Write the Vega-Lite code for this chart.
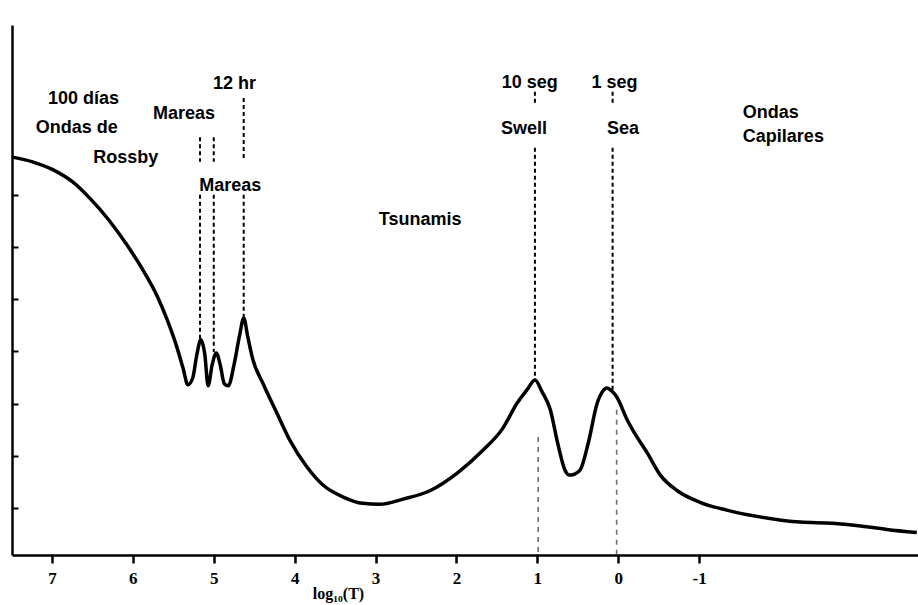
{
  "$schema": "https://vega.github.io/schema/vega-lite/v6.json",
  "width": 906,
  "height": 530,
  "padding": {"left": 12, "top": 25, "right": 0, "bottom": 50},
  "autosize": {"type": "none"},
  "background": "white",
  "config": {
    "view": {"stroke": null},
    "axis": {"grid": false, "domainColor": "black", "domainWidth": 2.5, "tickColor": "black", "ticks": true},
    "axisX": {"tickSize": 8, "tickWidth": 2.5},
    "axisY": {"tickSize": -6, "tickWidth": 2}
  },
  "datasets": {
    "spectrum": [
      {"logT": 7.49, "energy": 7.72}, {"logT": 7.24, "energy": 7.63}, {"logT": 6.99, "energy": 7.48},
      {"logT": 6.74, "energy": 7.24}, {"logT": 6.53, "energy": 6.93}, {"logT": 6.30, "energy": 6.52},
      {"logT": 6.07, "energy": 6.03}, {"logT": 5.88, "energy": 5.57}, {"logT": 5.70, "energy": 5.06},
      {"logT": 5.58, "energy": 4.62}, {"logT": 5.46, "energy": 4.10}, {"logT": 5.38, "energy": 3.68},
      {"logT": 5.32, "energy": 3.36}, {"logT": 5.26, "energy": 3.49}, {"logT": 5.21, "energy": 3.93},
      {"logT": 5.16, "energy": 4.22}, {"logT": 5.11, "energy": 3.93}, {"logT": 5.07, "energy": 3.34},
      {"logT": 5.02, "energy": 3.74}, {"logT": 4.97, "energy": 3.97}, {"logT": 4.92, "energy": 3.74},
      {"logT": 4.87, "energy": 3.38}, {"logT": 4.82, "energy": 3.34}, {"logT": 4.75, "energy": 3.74},
      {"logT": 4.68, "energy": 4.31}, {"logT": 4.63, "energy": 4.64}, {"logT": 4.58, "energy": 4.28},
      {"logT": 4.52, "energy": 3.86}, {"logT": 4.39, "energy": 3.38}, {"logT": 4.22, "energy": 2.82},
      {"logT": 4.06, "energy": 2.30}, {"logT": 3.85, "energy": 1.79}, {"logT": 3.65, "energy": 1.44},
      {"logT": 3.40, "energy": 1.21}, {"logT": 3.16, "energy": 1.09}, {"logT": 2.95, "energy": 1.07},
      {"logT": 2.66, "energy": 1.17}, {"logT": 2.33, "energy": 1.33}, {"logT": 1.99, "energy": 1.67},
      {"logT": 1.67, "energy": 2.11}, {"logT": 1.43, "energy": 2.52}, {"logT": 1.25, "energy": 3.01},
      {"logT": 1.12, "energy": 3.28}, {"logT": 1.03, "energy": 3.45}, {"logT": 0.94, "energy": 3.22},
      {"logT": 0.84, "energy": 2.88}, {"logT": 0.75, "energy": 2.25}, {"logT": 0.66, "energy": 1.73},
      {"logT": 0.60, "energy": 1.63}, {"logT": 0.54, "energy": 1.65}, {"logT": 0.47, "energy": 1.73},
      {"logT": 0.37, "energy": 2.25}, {"logT": 0.26, "energy": 3.01}, {"logT": 0.20, "energy": 3.22},
      {"logT": 0.14, "energy": 3.30}, {"logT": 0.08, "energy": 3.24}, {"logT": 0.02, "energy": 3.13},
      {"logT": -0.11, "energy": 2.69}, {"logT": -0.18, "energy": 2.49}, {"logT": -0.36, "energy": 2.05},
      {"logT": -0.52, "energy": 1.63}, {"logT": -0.73, "energy": 1.33}, {"logT": -1.01, "energy": 1.11},
      {"logT": -1.34, "energy": 0.96}, {"logT": -1.75, "energy": 0.83}, {"logT": -2.25, "energy": 0.73},
      {"logT": -2.65, "energy": 0.71}, {"logT": -3.07, "energy": 0.64}, {"logT": -3.32, "energy": 0.59},
      {"logT": -3.69, "energy": 0.53}
    ],
    "markers": [
      {"logT": 5.17, "y": 8.10, "y2": 7.63},
      {"logT": 5.17, "y": 7.00, "y2": 4.22},
      {"logT": 5.00, "y": 8.10, "y2": 7.63},
      {"logT": 5.00, "y": 7.00, "y2": 3.99},
      {"logT": 4.63, "y": 8.85, "y2": 7.67},
      {"logT": 4.63, "y": 7.00, "y2": 4.64},
      {"logT": 1.03, "y": 8.97, "y2": 8.72},
      {"logT": 1.03, "y": 7.90, "y2": 3.45},
      {"logT": 0.07, "y": 8.97, "y2": 8.72},
      {"logT": 0.07, "y": 7.90, "y2": 3.26}
    ],
    "lowerMarkers": [
      {"logT": 0.99, "y": 2.36, "y2": 0.1},
      {"logT": 0.02, "y": 2.88, "y2": 0.1}
    ],
    "labels": [
      {"logT": 7.05, "y": 8.74, "text": "100 días"},
      {"logT": 7.20, "y": 8.18, "text": "Ondas de"},
      {"logT": 6.49, "y": 7.61, "text": "Rossby"},
      {"logT": 5.75, "y": 8.45, "text": "Mareas"},
      {"logT": 5.01, "y": 9.03, "text": "12 hr"},
      {"logT": 5.18, "y": 7.07, "text": "Mareas"},
      {"logT": 2.96, "y": 6.42, "text": "Tsunamis"},
      {"logT": 1.44, "y": 9.05, "text": "10 seg"},
      {"logT": 1.45, "y": 8.16, "text": "Swell"},
      {"logT": 0.33, "y": 9.05, "text": "1 seg"},
      {"logT": 0.14, "y": 8.16, "text": "Sea"},
      {"logT": -1.54, "y": 8.47, "text": "Ondas"},
      {"logT": -1.54, "y": 8.01, "text": "Capilares"}
    ]
  },
  "layer": [
    {
      "data": {"name": "spectrum"},
      "mark": {"type": "line", "color": "black", "strokeWidth": 3.5, "interpolate": "monotone"},
      "encoding": {
        "x": {
          "field": "logT",
          "type": "quantitative",
          "scale": {"domain": [7.494, -3.705], "nice": false, "zero": false},
          "axis": {
            "values": [7, 6, 5, 4, 3, 2, 1, 0, -1],
            "labelExpr": "datum.value < 0 ? '-' + abs(datum.value) : '' + datum.value",
            "labelFont": "Liberation Serif",
            "labelFontWeight": "bold",
            "labelFontSize": 17,
            "labelColor": "black",
            "labelPadding": 7,
            "title": "log₁₀(T)",
            "titleFont": "Liberation Serif",
            "titleFontWeight": "bold",
            "titleFontSize": 16,
            "titleColor": "black",
            "titleX": 326,
            "titleY": 43,
            "titleBaseline": "alphabetic",
            "encode": {"ticks": {"update": {"y2": {"value": -8}}}}
          }
        },
        "y": {
          "field": "energy",
          "type": "quantitative",
          "scale": {"domain": [0.1, 10.25], "nice": false, "zero": false},
          "axis": {
            "values": [1, 2, 3, 4, 5, 6, 7],
            "labels": false,
            "title": null
          }
        },
        "order": {"field": "logT", "sort": "descending"}
      }
    },
    {
      "data": {"name": "markers"},
      "mark": {"type": "rule", "color": "black", "strokeWidth": 2, "strokeDash": [4, 3]},
      "encoding": {
        "x": {"field": "logT", "type": "quantitative"},
        "y": {"field": "y", "type": "quantitative"},
        "y2": {"field": "y2"}
      }
    },
    {
      "data": {"name": "lowerMarkers"},
      "mark": {"type": "rule", "color": "#333", "strokeWidth": 1.6, "strokeDash": [5, 5], "opacity": 0.7},
      "encoding": {
        "x": {"field": "logT", "type": "quantitative"},
        "y": {"field": "y", "type": "quantitative"},
        "y2": {"field": "y2"}
      }
    },
    {
      "data": {"name": "labels"},
      "mark": {
        "type": "text",
        "font": "Liberation Sans",
        "fontWeight": "bold",
        "fontSize": 18,
        "align": "left",
        "baseline": "alphabetic",
        "color": "black"
      },
      "encoding": {
        "x": {"field": "logT", "type": "quantitative"},
        "y": {"field": "y", "type": "quantitative"},
        "text": {"field": "text"}
      }
    }
  ]
}
